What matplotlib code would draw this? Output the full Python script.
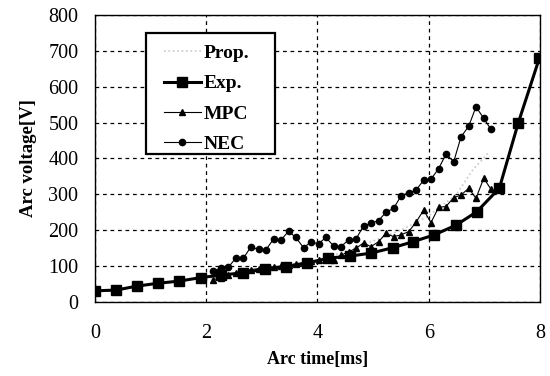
import matplotlib
matplotlib.use('Agg')
import matplotlib.pyplot as plt
from matplotlib.patches import Rectangle

plt.rcParams['font.family'] = ['Liberation Serif', 'DejaVu Serif']

# Exp. (measured)
exp_t = [0, 0.38, 0.75, 1.13, 1.51, 1.91, 2.27, 2.66, 3.06, 3.44, 3.81,
         4.19, 4.59, 4.96, 5.35, 5.72, 6.10, 6.49, 6.86, 7.27, 7.61, 7.99]
exp_v = [31, 33, 44, 52, 58, 68, 75, 81, 92, 98, 108,
         122, 128, 136, 151, 168, 187, 214, 251, 317, 499, 680]

# time axis shared by the simulated series
sim_t = [2.13, 2.26, 2.40, 2.53, 2.67, 2.80, 2.94, 3.07, 3.21, 3.34, 3.48,
         3.61, 3.75, 3.88, 4.02, 4.15, 4.29, 4.42, 4.56, 4.69, 4.83, 4.96,
         5.10, 5.23, 5.37, 5.50, 5.64, 5.77, 5.91, 6.04, 6.18, 6.31, 6.45,
         6.58, 6.72, 6.85, 6.99, 7.12]

nec_v = [87, 94, 97, 122, 122, 153, 147, 145, 175, 172, 197,
         180, 151, 167, 162, 180, 156, 154, 173, 175, 212, 219,
         227, 250, 261, 295, 305, 311, 340, 342, 372, 412, 391,
         460, 490, 544, 512, 481]

mpc_v = [62, 68, 75, 80, 86, 90, 93, 96, 98, 100, 103,
         106, 110, 113, 116, 120, 118, 130, 140, 149, 165, 154,
         168, 191, 182, 187, 196, 222, 256, 221, 264, 266, 291,
         298, 317, 289, 345, 314]

prop_t = [2.0, 2.5, 3.0, 3.5, 4.0, 4.5, 5.0, 5.5, 6.0, 6.5, 6.8, 7.07]
prop_v = [62, 78, 92, 104, 118, 140, 170, 200, 240, 300, 370, 415]

fig = plt.figure(figsize=(5.5, 3.76), dpi=100)
ax = fig.add_axes([0.1727, 0.197, 0.809, 0.763])

ax.plot(prop_t, prop_v, color='#c8c8c8', linestyle=':', linewidth=1.2, label='Prop.')
ax.plot(exp_t, exp_v, color='black', linewidth=2.2, marker='s', markersize=6.5, label='Exp.')
ax.plot(sim_t, mpc_v, color='black', linewidth=0.8, marker='^', markersize=5, label='MPC')
ax.plot(sim_t, nec_v, color='black', linewidth=0.8, marker='o', markersize=4.5, label='NEC')

ax.set_xlim(0, 8)
ax.set_ylim(0, 800)
ax.set_xticks([0, 2, 4, 6, 8])
ax.set_yticks(range(0, 801, 100))
ax.grid(True, color='black', linestyle=(0, (3, 3)), linewidth=0.9)
ax.tick_params(length=0, labelsize=14.5)
ax.tick_params(axis='x', pad=16)
ax.tick_params(axis='y', pad=12)
for s in ax.spines.values():
    s.set_linewidth(1.0)

ax.set_xlabel('Arc time[ms]', fontsize=13, fontweight='bold', labelpad=6)
ax.set_ylabel('Arc voltage[V]', fontsize=13.5, fontweight='bold', labelpad=8)

# legend box drawn separately so its padding can match the original
box = Rectangle((0.1146, 0.514), 0.29, 0.424, transform=ax.transAxes,
                facecolor='white', edgecolor='black', linewidth=1.6, zorder=4)
ax.add_patch(box)
leg = ax.legend(loc='upper left', bbox_to_anchor=(0.155, 0.898), borderaxespad=0,
                prop={'size': 14, 'weight': 'bold'},
                frameon=False, handlelength=1.9,
                borderpad=0, labelspacing=0.66, handletextpad=0.15)
leg.set_zorder(5)

fig.savefig('out.png', dpi=100)
